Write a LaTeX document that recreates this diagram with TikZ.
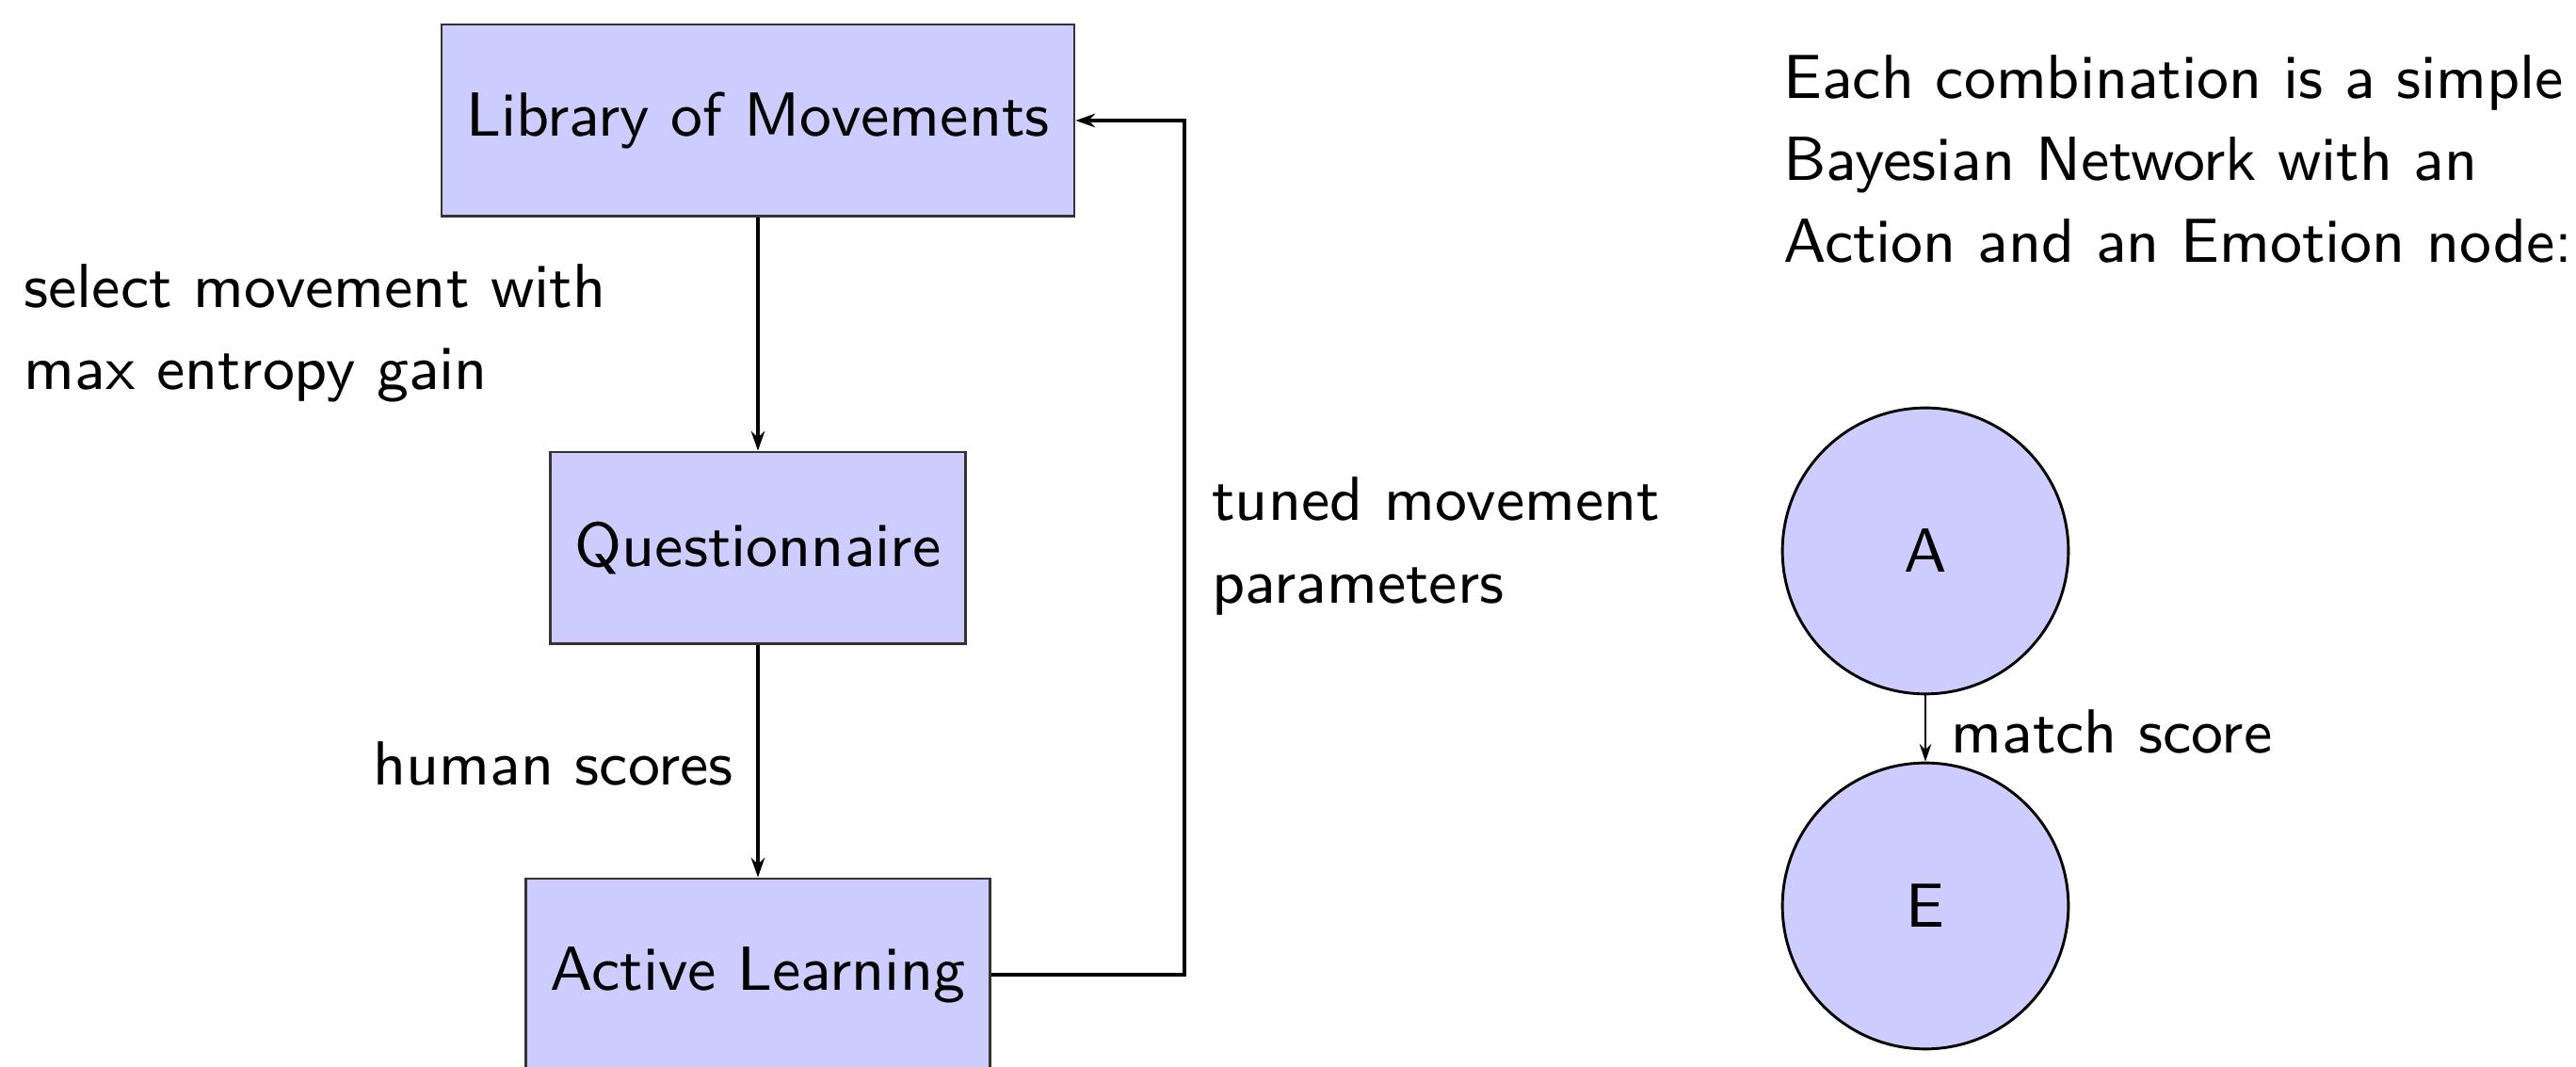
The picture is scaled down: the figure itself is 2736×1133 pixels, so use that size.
\documentclass[tikz,border=0pt]{standalone}
\usetikzlibrary{arrows.meta}
\begin{document}
\begin{tikzpicture}[x=0.0484mm,y=-0.0484mm,font=\sffamily\fontsize{9.1}{12}\selectfont,
  box/.style={draw=black!80,line width=0.4pt,fill=blue!20,rectangle,minimum height=9.87mm,inner xsep=1.27mm},
  bnode/.style={draw,fill=blue!20,circle,minimum size=14.7mm,inner sep=0pt},
  conn/.style={-{Stealth[length=1mm,width=0.7mm]},line width=0.6pt},
  thinconn/.style={-{Stealth[length=0.9mm,width=0.6mm]},line width=0.4pt},
  lbl/.style={inner sep=0pt,align=left}]
\useasboundingbox (0,0) rectangle (2736,1133);
\node[box] (lib) at (805,128) {Library of Movements};
\node[box] (q) at (805,582) {Questionnaire};
\node[box] (al) at (805,1035) {Active Learning};
\coordinate (c1) at (1258,1035);
\coordinate (c2) at (1258,128);
\draw[conn] (lib.south) -- (q.north);
\draw[conn] (q.south) -- (al.north);
\draw[conn] (al.east) -- (c1) -- (c2) -- (lib.east);
\node[lbl,anchor=west] (l1) at (24,354) {select movement with\\max entropy gain};
\node[lbl,anchor=east] (l2) at (780,811) {human scores};
\node[lbl,anchor=west] (l3) at (1286,580) {tuned movement\\parameters};
\node[lbl,anchor=west] (l4) at (1893,169) {Each combination is a simple\\Bayesian Network with an\\Action and an Emotion node:};
\node[bnode] (a) at (2045,585) {A};
\node[bnode] (e) at (2045,962) {E};
\draw[thinconn] (a.south) -- (e.north);
\node[lbl,anchor=west] (l5) at (2071,777) {match score};
\end{tikzpicture}
\end{document}
